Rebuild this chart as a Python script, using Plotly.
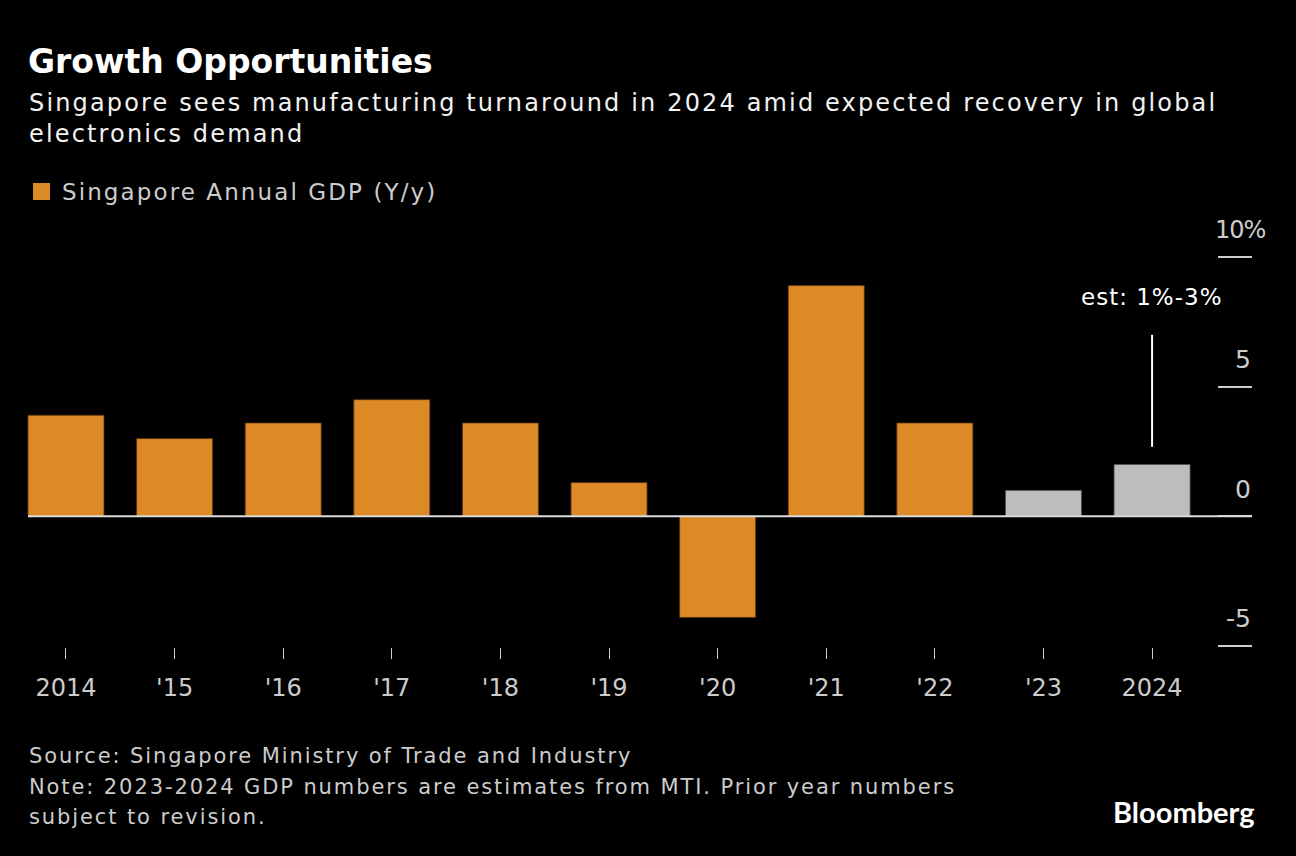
import plotly.graph_objects as go

# ---- data ----
years = ["2014", "'15", "'16", "'17", "'18", "'19", "'20", "'21", "'22"]
gdp_actual = [3.9, 3.0, 3.6, 4.5, 3.6, 1.3, -3.9, 8.9, 3.6]
est_years = ["'23", "2024"]
gdp_est = [1.0, 2.0]
ytick_vals = [-5, 0, 5, 10]
series_name = "Singapore Annual GDP (Y/y)"
est_label = "est: 1%-3%"

W, H = 1296, 856
L, R, T, B = 12, 44, 256, 209
PW, PH = W - L - R, H - T - B

def xp(px):
    return (px - L) / PW

def yp(py):
    return (H - B - py) / PH

def sp(text, ls):
    return f'<span style="letter-spacing:{ls}px">{text}</span>'

ORANGE = "#DB8A26"
GREY_BAR = "#BDBDBD"
TXT = "#CCCCCC"
FONT = "DejaVu Sans"

all_cats = years + est_years
x_range = [-0.497, 10.92]
y_range = [-5.04, 10.04]

fig = go.Figure()
fig.add_trace(go.Bar(
    x=years, y=gdp_actual, name=series_name,
    marker=dict(color=ORANGE, line=dict(color="rgba(90,50,10,0.8)", width=1)),
    showlegend=False,
))
fig.add_trace(go.Bar(
    x=est_years, y=gdp_est, name="Estimate",
    marker=dict(color=GREY_BAR, line=dict(color="rgba(80,80,80,0.8)", width=1)),
    showlegend=False,
))

# zero line across the plot
fig.add_shape(type="line", xref="x", yref="y", x0=-0.35, x1=x_range[1], y0=0, y1=0,
              line=dict(color="#DDDDDD", width=2), layer="above")

# estimate annotation (category index used to avoid numeric-looking labels)
est_idx = all_cats.index(est_years[-1])
est_val = gdp_est[-1]
fig.add_shape(type="line", xref="x", yref="y", x0=est_idx, x1=est_idx,
              y0=est_val + 0.68, y1=est_val + 5.0,
              line=dict(color="#FFFFFF", width=2))
fig.add_annotation(x=est_idx, y=est_val + 6.47, xref="x", yref="y",
                   text=sp(est_label, 1), showarrow=False, xanchor="center", yanchor="middle",
                   font=dict(family=FONT, size=23, color="#FFFFFF"))

# y tick labels (above the short right-hand ticks)
top_v = max(ytick_vals)
for v in ytick_vals:
    if v == top_v:
        fig.add_annotation(xref="paper", yref="y", x=xp(1268), y=v, xanchor="right", yanchor="middle",
                           yshift=27, text=sp(f"{v}%", -1), showarrow=False,
                           font=dict(family=FONT, size=24, color=TXT))
    else:
        fig.add_annotation(xref="paper", yref="y", x=xp(1253), y=v, xanchor="right", yanchor="middle",
                           yshift=27, text=str(v), showarrow=False,
                           font=dict(family=FONT, size=25, color=TXT))

# title / subtitle
fig.add_annotation(xref="paper", yref="paper", x=xp(26), y=yp(62), xanchor="left", yanchor="middle",
                   text="<b>Growth Opportunities</b>", showarrow=False,
                   font=dict(family=FONT, size=33, color="#FFFFFF"))
fig.add_annotation(xref="paper", yref="paper", x=xp(27), y=yp(103), xanchor="left", yanchor="middle",
                   text=sp("Singapore sees manufacturing turnaround in 2024 amid expected recovery in global", 2.15),
                   showarrow=False, font=dict(family=FONT, size=24, color="#F2F2F2"))
fig.add_annotation(xref="paper", yref="paper", x=xp(27), y=yp(134), xanchor="left", yanchor="middle",
                   text=sp("electronics demand", 2.15),
                   showarrow=False, font=dict(family=FONT, size=24, color="#F2F2F2"))

# legend (manual)
fig.add_shape(type="rect", xref="paper", yref="paper", x0=xp(33), x1=xp(50), y0=yp(200), y1=yp(183),
              fillcolor=ORANGE, line=dict(width=0))
fig.add_annotation(xref="paper", yref="paper", x=xp(60), y=yp(192), xanchor="left", yanchor="middle",
                   text=sp(series_name, 2.1), showarrow=False, font=dict(family=FONT, size=23, color=TXT))

# footer
foot = ["Source: Singapore Ministry of Trade and Industry",
        "Note: 2023-2024 GDP numbers are estimates from MTI. Prior year numbers",
        "subject to revision."]
for i, line in enumerate(foot):
    fig.add_annotation(xref="paper", yref="paper", x=xp(27), y=yp(756 + i * 30.5), xanchor="left",
                       yanchor="middle", text=sp(line, 1.9), showarrow=False,
                       font=dict(family=FONT, size=21, color=TXT))
fig.add_annotation(xref="paper", yref="paper", x=xp(1257), y=yp(811), xanchor="right", yanchor="middle",
                   text="Bloomberg", showarrow=False,
                   font=dict(family="Lato", size=29, color="#FFFFFF", weight="bold"))

fig.update_layout(
    width=W, height=H,
    margin=dict(l=L, r=R, t=T, b=B, autoexpand=False),
    paper_bgcolor="#000000", plot_bgcolor="#000000",
    barmode="overlay", bargap=0.3,
    showlegend=False,
    font=dict(family=FONT, color=TXT),
    xaxis=dict(
        type="category", categoryorder="array", categoryarray=all_cats,
        range=x_range, showgrid=False, zeroline=False, showline=False,
        ticks="outside", ticklen=11, tickwidth=1, tickcolor=TXT,
        ticklabelstandoff=8,
        tickfont=dict(family=FONT, size=24, color=TXT),
    ),
    yaxis=dict(
        range=y_range, side="right", showgrid=False, zeroline=False, showline=False,
        tickvals=ytick_vals, showticklabels=False,
        ticks="inside", ticklen=34, tickwidth=2, tickcolor=TXT,
    ),
)

fig.write_html("out.html", config={"displayModeBar": False},
               post_script="document.body.style.margin='0';document.body.style.overflow='hidden';")
